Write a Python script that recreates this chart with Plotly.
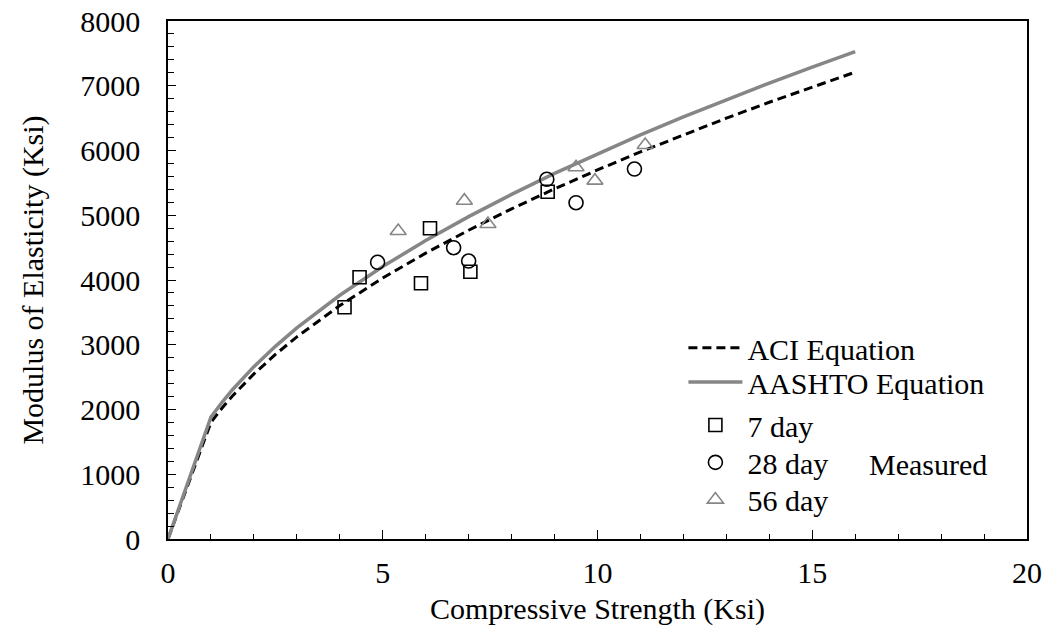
import plotly.graph_objects as go

# Equation curves: compressive strength (ksi) vs modulus (ksi)
fc_curve = [0, 1, 1.25, 1.5, 2, 2.5, 3, 4, 5, 6, 7, 8, 9, 10, 11, 12, 13, 14, 15, 16]
aci_ec = [0, 1803, 2015, 2208, 2549, 2850, 3122, 3605, 4031, 4415, 4769, 5098,
          5408, 5700, 5978, 6244, 6499, 6745, 6981, 7210]
aashto_ec = [0, 1882, 2104, 2305, 2662, 2976, 3260, 3764, 4208, 4610, 4979, 5323,
             5646, 5951, 6242, 6520, 6786, 7042, 7289, 7528]

# Measured specimens
fc_7 = [4.11, 4.46, 5.89, 6.10, 7.04, 8.84]
ec_7 = [3578, 4042, 3949, 4799, 4128, 5364]
fc_28 = [4.88, 6.65, 7.00, 8.82, 9.50, 10.86]
ec_28 = [4273, 4499, 4293, 5555, 5194, 5714]
fc_56 = [5.36, 6.90, 7.45, 9.50, 9.94, 11.11]
ec_56 = [4757, 5225, 4865, 5741, 5534, 6085]

FONT = "Liberation Serif"
FS = 30
GREY = "#868686"

# one legend box per entry so rows sit at chosen heights
legend_rows = {"legend": 0.369, "legend2": 0.303, "legend3": 0.220,
               "legend4": 0.148, "legend5": 0.076}

fig = go.Figure()
fig.add_trace(go.Scatter(x=fc_curve, y=aci_ec, mode="lines", name="ACI Equation",
                         legend="legend",
                         line=dict(color="black", width=3, dash="9px,5px")))
fig.add_trace(go.Scatter(x=fc_curve, y=aashto_ec, mode="lines", name="AASHTO Equation",
                         legend="legend2",
                         line=dict(color=GREY, width=3.5)))
fig.add_trace(go.Scatter(x=fc_7, y=ec_7, mode="markers", name="7 day",
                         legend="legend3",
                         marker=dict(symbol="square-open", size=13, color="black",
                                     line=dict(width=1.6))))
fig.add_trace(go.Scatter(x=fc_28, y=ec_28, mode="markers", name="28 day",
                         legend="legend4",
                         marker=dict(symbol="circle-open", size=14, color="black",
                                     line=dict(width=1.6))))
fig.add_trace(go.Scatter(x=fc_56, y=ec_56, mode="markers", name="56 day",
                         legend="legend5",
                         marker=dict(symbol="triangle-up-open", size=14, color=GREY,
                                     line=dict(width=1.6))))

fig.add_annotation(x=17.7, y=1150, text="Measured", showarrow=False,
                   font=dict(family=FONT, size=FS, color="black"))

axis_common = dict(
    showgrid=False, zeroline=False, showline=True, linecolor="black",
    linewidth=1.5, mirror=True, ticks="inside", tickcolor="black",
    automargin=False,
    tickfont=dict(family=FONT, size=FS, color="black"),
)

fig.update_xaxes(
    range=[0, 20], tickvals=[0, 5, 10, 15, 20], ticklen=9, tickwidth=1.2,
    ticklabelstandoff=6,
    minor=dict(dtick=1, ticks="inside", ticklen=5, tickcolor="black", tickwidth=1),
    title=dict(text="Compressive Strength (Ksi)", font=dict(family=FONT, size=FS, color="black"),
               standoff=10),
    **axis_common,
)
fig.update_yaxes(
    range=[0, 8000], dtick=1000, ticklen=8, tickwidth=1.2,
    ticklabelstandoff=20,
    minor=dict(dtick=200, ticks="inside", ticklen=6, tickcolor="black", tickwidth=1),
    title=dict(text="Modulus of Elasticity (Ksi)", font=dict(family=FONT, size=FS, color="black"),
               standoff=28),
    **axis_common,
)

legend_style = dict(x=0.600, xanchor="left", yanchor="middle",
                    bgcolor="rgba(0,0,0,0)", font=dict(family=FONT, size=FS),
                    itemwidth=54)

fig.update_layout(
    width=1049, height=641,
    margin=dict(l=168, r=22, t=21, b=102),
    paper_bgcolor="white", plot_bgcolor="white",
    font=dict(family=FONT, size=FS, color="black"),
    showlegend=True,
    **{name: dict(y=ypos, **legend_style) for name, ypos in legend_rows.items()},
)

fig.write_html("out.html")
